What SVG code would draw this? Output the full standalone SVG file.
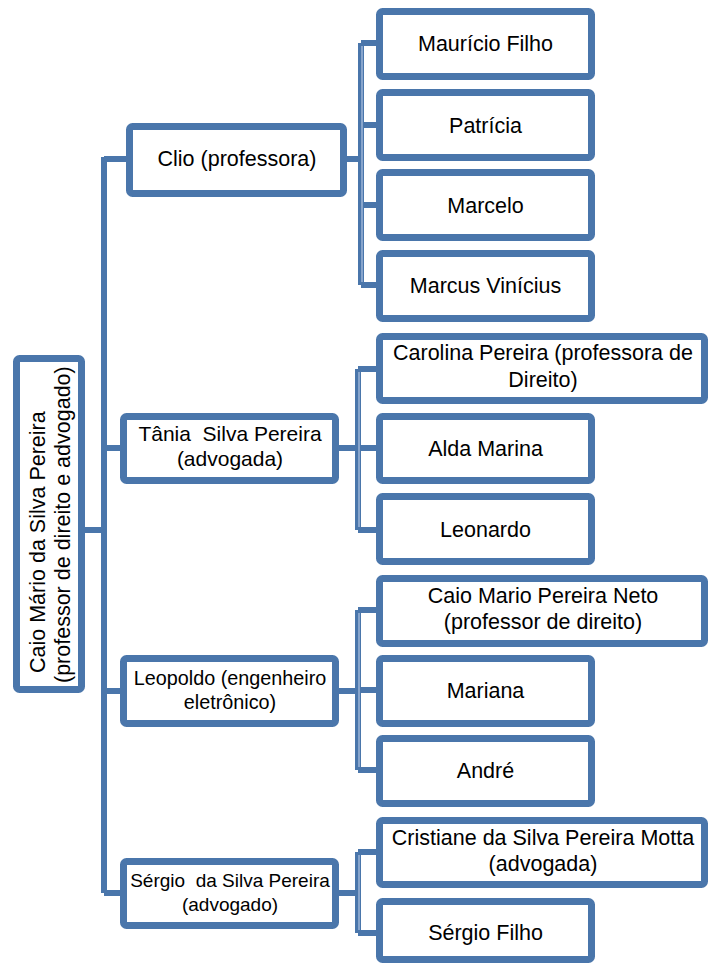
<svg xmlns="http://www.w3.org/2000/svg" width="708" height="965" viewBox="0 0 708 965">
<style>
.box{fill:#ffffff;stroke:#4a76ab;stroke-width:7}
.conn{fill:none;stroke:#4a76ab;stroke-width:6;stroke-linejoin:miter}
.hl{fill:none;stroke:#9db5d8;stroke-width:1.5}
text{font-family:"Liberation Sans",Arial,sans-serif;font-size:21.5px;fill:#000;text-anchor:middle}
.l1{font-size:21px}
.leo{font-size:19.8px}
.ser{font-size:19px}
</style>
<rect width="708" height="965" fill="#ffffff"/>
<g id="connectors">
<path class="conn" d="M85 530 H104 M104 157 V893 M104 159 H126 M104 448 H120 M104 691 H120 M104 893 H120"/>
<path class="conn" d="M347 159 H361 M361 43 V285 M361 43 H376 M361 125 H376 M361 205 H376 M361 285 H376"/>
<path class="conn" d="M339 448 H358 M358 369 V530 M358 369 H376 M358 448 H376 M358 530 H376"/>
<path class="conn" d="M339 691 H358 M358 610 V770 M358 610 H376 M358 690 H376 M358 770 H376"/>
<path class="conn" d="M339 893 H358 M358 852 V933 M358 852 H376 M358 933 H376"/>
<path class="hl" d="M362 46 V282 M359 372 V527 M359 613 V767 M359 855 V930"/>
</g>
<g id="root">
<rect class="box" x="16.5" y="358.5" width="65" height="331" rx="3"/>
<text transform="translate(45,673) rotate(-90)" style="text-anchor:start">Caio Mário da Silva Pereira</text>
<text transform="translate(70,683) rotate(-90)" style="text-anchor:start">(professor de direito e advogado)</text>
</g>
<g id="clio">
<rect class="box" x="129.5" y="126.5" width="214" height="67" rx="3"/>
<text x="237" y="166">Clio (professora)</text>
</g>
<g id="tania">
<rect class="box" x="123.5" y="416.5" width="212" height="64" rx="3"/>
<text class="l1" x="230" y="441" xml:space="preserve">Tânia  Silva Pereira</text>
<text class="l1" x="230" y="466">(advogada)</text>
</g>
<g id="leopoldo">
<rect class="box" x="123.5" y="658.5" width="212" height="65" rx="3"/>
<text class="leo" x="230" y="685">Leopoldo (engenheiro</text>
<text class="leo" x="230" y="709">eletrônico)</text>
</g>
<g id="sergio">
<rect class="box" x="123.5" y="861.5" width="212" height="64" rx="3"/>
<text class="ser" x="230" y="887" xml:space="preserve">Sérgio  da Silva Pereira</text>
<text class="ser" x="230" y="911">(advogado)</text>
</g>
<g id="mauricio">
<rect class="box" x="379.5" y="11.5" width="212" height="65" rx="3"/>
<text x="485.5" y="51">Maurício Filho</text>
</g>
<g id="patricia">
<rect class="box" x="379.5" y="92.5" width="212" height="65" rx="3"/>
<text x="485.5" y="132.5">Patrícia</text>
</g>
<g id="marcelo">
<rect class="box" x="379.5" y="172.5" width="212" height="65" rx="3"/>
<text x="485.5" y="212.5">Marcelo</text>
</g>
<g id="marcus">
<rect class="box" x="379.5" y="253.5" width="212" height="65" rx="3"/>
<text x="485.5" y="293">Marcus Vinícius</text>
</g>
<g id="carolina">
<rect class="box" x="379.5" y="336.5" width="325" height="64" rx="3"/>
<text x="543" y="360">Carolina Pereira (professora de</text>
<text x="543" y="387">Direito)</text>
</g>
<g id="alda">
<rect class="box" x="379.5" y="416.5" width="212" height="64" rx="3"/>
<text x="485.5" y="456">Alda Marina</text>
</g>
<g id="leonardo">
<rect class="box" x="379.5" y="496.5" width="212" height="65" rx="3"/>
<text x="485.5" y="537">Leonardo</text>
</g>
<g id="caioneto">
<rect class="box" x="379.5" y="578.5" width="325" height="65" rx="3"/>
<text x="543" y="603">Caio Mario Pereira Neto</text>
<text x="543" y="629">(professor de direito)</text>
</g>
<g id="mariana">
<rect class="box" x="379.5" y="658.5" width="212" height="65" rx="3"/>
<text x="485.5" y="698">Mariana</text>
</g>
<g id="andre">
<rect class="box" x="379.5" y="738.5" width="212" height="65" rx="3"/>
<text x="485.5" y="778">André</text>
</g>
<g id="cristiane">
<rect class="box" x="379.5" y="820.5" width="325" height="64" rx="3"/>
<text x="543" y="845">Cristiane da Silva Pereira Motta</text>
<text x="543" y="871">(advogada)</text>
</g>
<g id="sergiofilho">
<rect class="box" x="379.5" y="901.5" width="212" height="58" rx="3"/>
<text x="485.5" y="940">Sérgio Filho</text>
</g>
</svg>
